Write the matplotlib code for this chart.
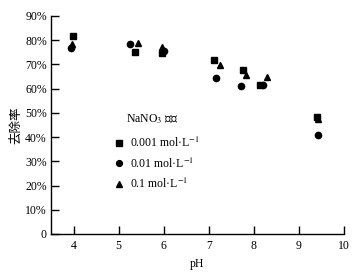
import matplotlib
matplotlib.use("Agg")
import matplotlib.pyplot as plt
from matplotlib.ticker import FuncFormatter
from matplotlib.lines import Line2D

plt.rcParams['font.family'] = ['Liberation Serif', 'Noto Sans CJK SC']
plt.rcParams['mathtext.fontset'] = 'stix'

ph_a = [3.98, 5.37, 5.97, 7.12, 7.76, 8.14, 9.40]
val_a = [81.8, 75.2, 74.8, 71.9, 67.8, 61.7, 48.3]
ph_b = [3.95, 5.26, 6.00, 7.16, 7.72, 8.20, 9.42]
val_b = [76.6, 78.5, 75.4, 64.5, 61.2, 61.6, 40.9]
ph_c = [3.97, 5.42, 5.97, 7.25, 7.83, 8.30, 9.43]
val_c = [78.3, 79.0, 77.2, 69.8, 65.7, 64.9, 47.4]

labels = ['0.001 mol·L$^{-1}$', '0.01 mol·L$^{-1}$', '0.1 mol·L$^{-1}$']
title = 'NaNO$_3$ 浓度'

fig = plt.figure(figsize=(3.62, 2.80), dpi=100)
ax = fig.add_axes([51/362, 1-234/280, (344-51)/362, (234-16)/280])

ax.plot(ph_a, val_a, 's', color='black', ms=4.2, ls='none')
ax.plot(ph_b, val_b, 'o', color='black', ms=4.5, ls='none')
ax.plot(ph_c, val_c, '^', color='black', ms=4.8, ls='none')

ax.set_xlim(3.5, 10)
ax.set_ylim(0, 90)
ax.set_xticks([4, 5, 6, 7, 8, 9, 10])
ax.set_yticks(range(0, 91, 10))
ax.yaxis.set_major_formatter(FuncFormatter(lambda v, p: '0' if v == 0 else f'{int(v)}%'))
ax.spines['top'].set_visible(False)
ax.spines['right'].set_visible(False)
for s in ['left', 'bottom']:
    ax.spines[s].set_linewidth(1.0)
ax.tick_params(direction='in', length=6, width=1.0, labelsize=8.5, pad=4, colors='black')
ax.tick_params(axis='y', pad=3)

ax.set_xlabel('pH', fontsize=8.5, labelpad=5)
ax.set_ylabel('去除率', fontsize=9, labelpad=2)

handles = [Line2D([], [], marker='s', color='black', ls='none', ms=4),
           Line2D([], [], marker='o', color='black', ls='none', ms=4.2),
           Line2D([], [], marker='^', color='black', ls='none', ms=4.5)]
leg = ax.legend(handles, labels, loc='upper left', bbox_to_anchor=(0.2, 0.479),
                frameon=False, fontsize=8.5, handlelength=0.6, handletextpad=0.6,
                labelspacing=0.55, borderpad=0)
ax.text(0.256, 0.527, title, transform=ax.transAxes, fontsize=8.5, va='center', ha='left')

fig.savefig('out.png', dpi=100)
